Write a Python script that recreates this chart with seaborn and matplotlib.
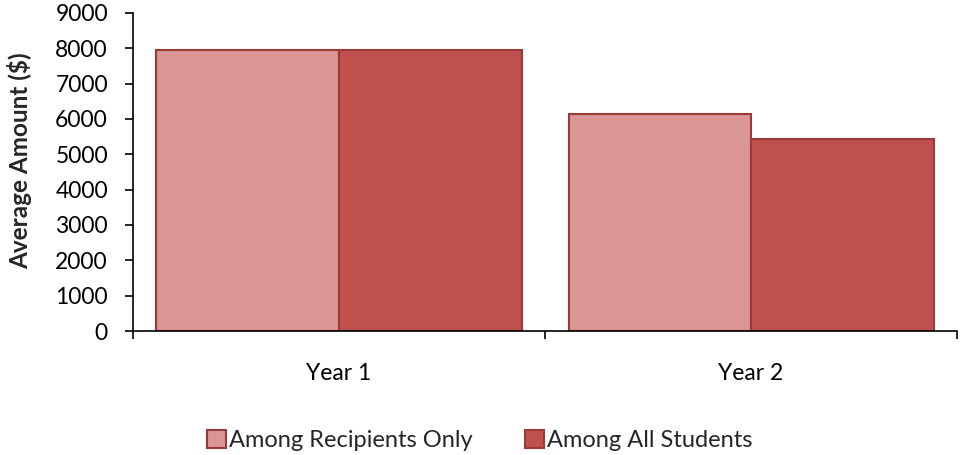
import matplotlib
matplotlib.use("Agg")
import matplotlib.pyplot as plt
import seaborn as sns
import pandas as pd
from matplotlib.ticker import FixedLocator

years = ["Year 1", "Year 2"]
series = ["Among Recipients Only", "Among All Students"]
recipients_only = [7940, 6130]
all_students = [7940, 5420]
y_ticks = [0, 1000, 2000, 3000, 4000, 5000, 6000, 7000, 8000, 9000]

colors = ["#D99694", "#C0504D"]
edge = "#9A3B39"

df = pd.DataFrame({
    "Year": years * 2,
    "Group": [series[0]] * 2 + [series[1]] * 2,
    "Amount": recipients_only + all_students,
})

sns.set_theme(style="white")
plt.rcParams["font.family"] = ["Lato", "DejaVu Sans"]

fig = plt.figure(figsize=(9.6, 4.55), dpi=100)
ax = fig.add_axes([0.1385, 0.2725, 0.8585, 0.699])

sns.barplot(data=df, x="Year", y="Amount", hue="Group", hue_order=series,
            palette=colors, width=0.886, gap=0, errorbar=None,
            edgecolor=edge, linewidth=1.5, saturation=1, ax=ax, legend=True)

ax.set_xlim(-0.5, 1.5)
ax.set_ylim(0, 9000)
ax.set_yticks(y_ticks)
ax.set_yticklabels([str(v) for v in y_ticks], fontsize=16.5)
ax.set_xticks(range(len(years)))
ax.set_xticklabels(years, fontsize=16.5)
ax.xaxis.set_minor_locator(FixedLocator([-0.5, 0.5, 1.5]))
ax.tick_params(axis="x", which="major", length=0, pad=23, colors="black")
ax.tick_params(axis="x", which="minor", length=6, width=1.2, color="black",
               direction="out", bottom=True)
ax.tick_params(axis="y", which="major", length=6, width=1.2, color="black",
               direction="out", pad=12, colors="black", left=True)

ax.set_xlabel("")
ax.set_ylabel("Average Amount ($)", fontsize=17.5, fontweight="bold")
ax.yaxis.set_label_coords(-0.137, 0.535)
ax.yaxis.label.set_verticalalignment("center")

for side in ["top", "right"]:
    ax.spines[side].set_visible(False)
for side in ["left", "bottom"]:
    ax.spines[side].set_color("black")
    ax.spines[side].set_linewidth(1.2)

handles, labels = ax.get_legend_handles_labels()
ax.legend_.remove()
fig.legend(handles, labels, loc="center", bbox_to_anchor=(0.5, 0.032), ncol=2,
           frameon=False, fontsize=17, handlelength=0.8, handleheight=0.8,
           handletextpad=0.15, columnspacing=2.2)

fig.savefig("out.png", dpi=100)
